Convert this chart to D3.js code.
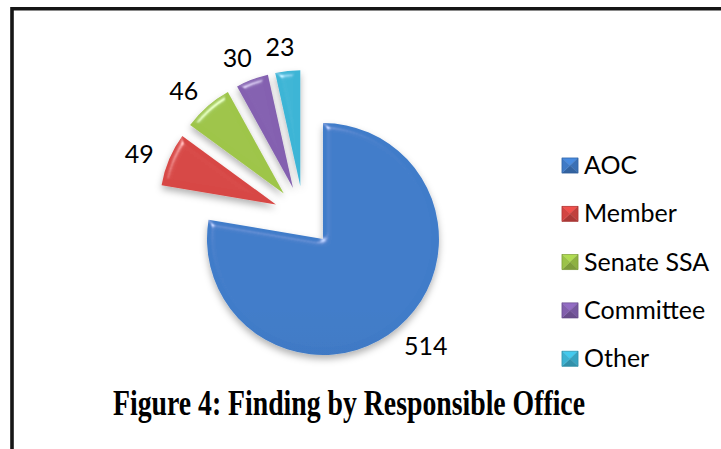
<!DOCTYPE html>
<html>
<head>
<meta charset="utf-8">
<script src="https://cdn.jsdelivr.net/npm/d3@7/dist/d3.min.js"></script>
<style>
  html, body { margin: 0; padding: 0; background: #fff; }
  svg { display: block; }
</style>
</head>
<body>
<svg id="chart" width="721" height="449"></svg>
<script>
// Findings grouped by the office responsible for them
const categories = ["AOC", "Member", "Senate SSA", "Committee", "Other"];
const values = [514, 49, 46, 30, 23];
const colors = ["#3d76bf", "#cc4340", "#96bb45", "#7d5ca7", "#3aaccb"];
const titleText = "Figure 4: Finding by Responsible Office";

const W = 721, H = 449;
const cx = 303.6, cy = 216.1, R = 116, explode = 30;

const svg = d3.select("#chart");
const defs = svg.append("defs");

// soft bevel + shadow used on every slice
const f = defs.append("filter").attr("id", "bevel")
  .attr("x", "-30%").attr("y", "-30%").attr("width", "160%").attr("height", "160%");
f.append("feGaussianBlur").attr("in", "SourceAlpha").attr("stdDeviation", 3).attr("result", "blur");
const spec = f.append("feSpecularLighting").attr("in", "blur")
  .attr("surfaceScale", 4).attr("specularConstant", 0.45).attr("specularExponent", 45)
  .attr("lighting-color", "#ffffff").attr("result", "spec");
spec.append("feDistantLight").attr("azimuth", 235).attr("elevation", 40);
f.append("feComposite").attr("in", "spec").attr("in2", "SourceAlpha").attr("operator", "in").attr("result", "specIn");
f.append("feComposite").attr("in", "SourceGraphic").attr("in2", "specIn")
  .attr("operator", "arithmetic").attr("k1", 0).attr("k2", 1).attr("k3", 1).attr("k4", 0).attr("result", "lit");
f.append("feGaussianBlur").attr("in", "SourceAlpha").attr("stdDeviation", 3.5).attr("result", "sblur");
f.append("feOffset").attr("in", "sblur").attr("dx", 0).attr("dy", 4).attr("result", "soff");
f.append("feFlood").attr("flood-color", "#000").attr("flood-opacity", 0.3).attr("result", "sc");
f.append("feComposite").attr("in", "sc").attr("in2", "soff").attr("operator", "in").attr("result", "shadow");
const merge = f.append("feMerge");
merge.append("feMergeNode").attr("in", "shadow");
merge.append("feMergeNode").attr("in", "lit");

// vertical shading per colour
colors.forEach((c, i) => {
  const g = defs.append("linearGradient").attr("id", "grad" + i)
    .attr("gradientUnits", "userSpaceOnUse")
    .attr("x1", 0).attr("y1", cy - R - explode).attr("x2", 0).attr("y2", cy + R + explode);
  g.append("stop").attr("offset", 0).attr("stop-color", d3.color(c).brighter(0.15));
  g.append("stop").attr("offset", 1).attr("stop-color", d3.color(c).darker(0.3));
});

// frame
svg.append("path")
  .attr("d", `M12,${H} V8.7 H${W}`)
  .attr("fill", "none").attr("stroke", "#161616").attr("stroke-width", 3.6);

const pie = d3.pie().sort(null).value(d => d)
  .startAngle(0).endAngle(2 * Math.PI);
const arcs = pie(values);
const arc = d3.arc().innerRadius(0).outerRadius(R);

const gPie = svg.append("g").attr("transform", `translate(${cx},${cy})`);

gPie.selectAll("path.slice").data(arcs).join("path")
  .attr("class", "slice")
  .attr("d", arc)
  .attr("fill", (d, i) => `url(#grad${i})`)
  .attr("filter", "url(#bevel)")
  .attr("transform", d => {
    const a = (d.startAngle + d.endAngle) / 2;
    return `translate(${explode * Math.sin(a)},${-explode * Math.cos(a)})`;
  });

// value labels, outside end of each exploded slice
const labelFont = 25;
gPie.selectAll("text.val").data(arcs).join("text")
  .attr("class", "val")
  .attr("font-family", "Lato, 'Open Sans', sans-serif")
  .attr("font-size", labelFont)
  .attr("fill", "#000")
  .attr("text-anchor", "middle")
  .attr("dominant-baseline", "central")
  .text(d => d.data)
  .each(function (d) {
    const a = (d.startAngle + d.endAngle) / 2 - 0.025;
    const dx = Math.sin(a), dy = -Math.cos(a);
    const w = this.getComputedTextLength(), h = 20;
    const r = R + explode + 16;
    d3.select(this)
      .attr("x", dx * r + dx * w / 2)
      .attr("y", dy * r + dy * h / 2);
  });

// legend
const legX = 562, legY0 = 174, legStep = 48.3, box = 16;
const leg = svg.append("g");
categories.forEach((name, i) => {
  const y = legY0 + i * legStep;
  const c = d3.color(colors[i]);
  const x0 = legX, y0 = y - box, x1 = legX + box, y1 = y - 1, xm = (x0 + x1) / 2, ym = (y0 + y1) / 2;
  const faces = [
    [[x0, y0], [x1, y0], [xm, ym], c.brighter(0.45)],
    [[x1, y0], [x1, y1], [xm, ym], c.darker(0.15)],
    [[x1, y1], [x0, y1], [xm, ym], c.darker(0.5)],
    [[x0, y1], [x0, y0], [xm, ym], c.brighter(0.1)]
  ];
  faces.forEach(fc => {
    leg.append("path")
      .attr("d", `M${fc[0][0]},${fc[0][1]} L${fc[1][0]},${fc[1][1]} L${fc[2][0]},${fc[2][1]} Z`)
      .attr("fill", fc[3]).attr("stroke", fc[3]).attr("stroke-width", 0.4);
  });
  leg.append("rect").attr("x", x0).attr("y", y0).attr("width", box).attr("height", y1 - y0)
    .attr("fill", "none").attr("stroke", c.darker(0.6)).attr("stroke-width", 0.6);
  leg.append("text")
    .attr("x", legX + 22).attr("y", y)
    .attr("font-family", "Lato, 'Open Sans', sans-serif")
    .attr("font-size", 25)
    .attr("fill", "#000")
    .text(name);
});

// caption
svg.append("text")
  .attr("x", 349).attr("y", 414.5)
  .attr("text-anchor", "middle")
  .attr("font-family", "'Liberation Serif', 'Times New Roman', serif")
  .attr("font-weight", "bold")
  .attr("font-size", 35)
  .attr("textLength", 472)
  .attr("lengthAdjust", "spacingAndGlyphs")
  .attr("fill", "#000")
  .text(titleText);
</script>
</body>
</html>
